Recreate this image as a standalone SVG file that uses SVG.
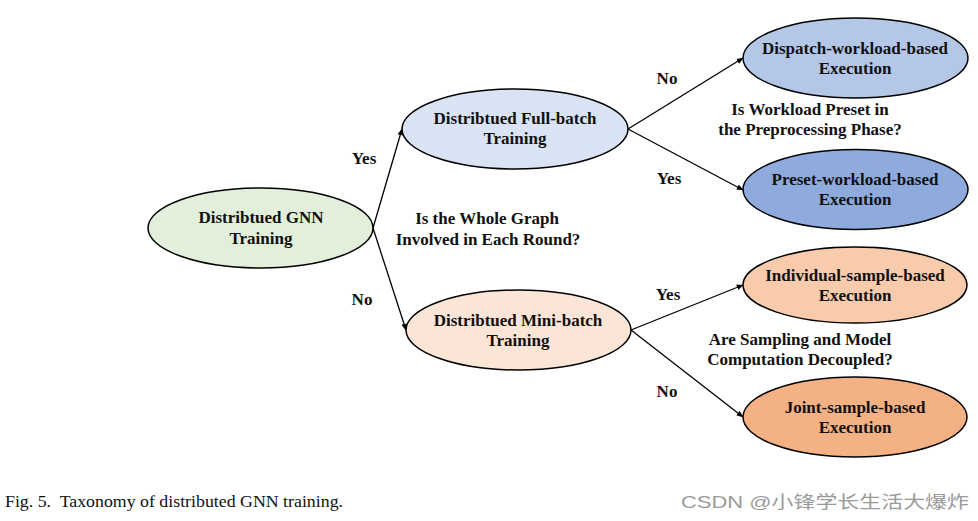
<svg xmlns="http://www.w3.org/2000/svg" width="978" height="521" viewBox="0 0 978 521">
<style>
.n{stroke:#000;stroke-width:1.5}
.t{font-family:"Liberation Serif","Times New Roman",serif;font-weight:bold;font-size:17px;fill:#111;text-anchor:middle}
.e{stroke:#000;stroke-width:1.3;fill:none;marker-end:url(#ah)}
.cap{font-family:"Liberation Serif","Times New Roman",serif;font-size:17px;fill:#111}
.wm{font-family:"Liberation Sans","Noto Sans CJK SC",sans-serif;font-size:17px;fill:#9a9a9a}
</style>
<defs>
<marker id="ah" viewBox="0 0 10 10" refX="9" refY="5" markerWidth="7" markerHeight="7" orient="auto" markerUnits="userSpaceOnUse">
<path d="M0,1 L10,5 L0,9 z" fill="#000"/>
</marker>
</defs>
<rect width="978" height="521" fill="#fff"/>
<g id="connectors">
<line class="e" x1="373" y1="228" x2="402" y2="129"/>
<line class="e" x1="373" y1="228" x2="406" y2="330"/>
<line class="e" x1="628" y1="129" x2="743" y2="58"/>
<line class="e" x1="628" y1="129" x2="743" y2="190"/>
<line class="e" x1="631" y1="330" x2="743" y2="285"/>
<line class="e" x1="631" y1="330" x2="743" y2="417"/>
</g>
<g id="labels">
<text class="t" x="364" y="164">Yes</text>
<text class="t" x="362" y="305">No</text>
<text class="t" x="487" y="224">Is the Whole Graph</text>
<text class="t" x="488" y="245">Involved in Each Round?</text>
<text class="t" x="667" y="84">No</text>
<text class="t" x="669" y="184">Yes</text>
<text class="t" x="810" y="115">Is Workload Preset in</text>
<text class="t" x="810" y="135">the Preprocessing Phase?</text>
<text class="t" x="668" y="300">Yes</text>
<text class="t" x="667" y="397">No</text>
<text class="t" x="800" y="345">Are Sampling and Model</text>
<text class="t" x="800" y="365">Computation Decoupled?</text>
</g>
<g id="root">
<ellipse class="n" cx="260.5" cy="228" rx="112.5" ry="40" fill="#e2efda"/>
<text class="t" x="261" y="223">Distribtued GNN</text>
<text class="t" x="261" y="244">Training</text>
</g>
<g id="fullbatch">
<ellipse class="n" cx="515" cy="129" rx="113" ry="40" fill="#dae3f3"/>
<text class="t" x="515" y="124">Distribtued Full-batch</text>
<text class="t" x="515" y="144">Training</text>
</g>
<g id="minibatch">
<ellipse class="n" cx="518.5" cy="330" rx="112.5" ry="40" fill="#fbe5d6"/>
<text class="t" x="518" y="326">Distribtued Mini-batch</text>
<text class="t" x="518" y="346">Training</text>
</g>
<g id="dispatch">
<ellipse class="n" cx="855.5" cy="58" rx="112.5" ry="40" fill="#b4c7e7"/>
<text class="t" x="855" y="54">Dispatch-workload-based</text>
<text class="t" x="855" y="74">Execution</text>
</g>
<g id="preset">
<ellipse class="n" cx="855.5" cy="189.5" rx="112.5" ry="40" fill="#8faadc"/>
<text class="t" x="855" y="185">Preset-workload-based</text>
<text class="t" x="855" y="205">Execution</text>
</g>
<g id="individual">
<ellipse class="n" cx="855" cy="285" rx="112" ry="38" fill="#f8cbad"/>
<text class="t" x="855" y="281">Individual-sample-based</text>
<text class="t" x="855" y="301">Execution</text>
</g>
<g id="joint">
<ellipse class="n" cx="855" cy="417" rx="112" ry="40" fill="#f4b183"/>
<text class="t" x="855" y="413">Joint-sample-based</text>
<text class="t" x="855" y="433">Execution</text>
</g>
<text class="cap" x="5" y="507" xml:space="preserve" textLength="338" lengthAdjust="spacingAndGlyphs">Fig. 5.  Taxonomy of distributed GNN training.</text>
<text class="wm" x="681" y="508" textLength="288" lengthAdjust="spacingAndGlyphs">CSDN @小锋学长生活大爆炸</text>
</svg>
